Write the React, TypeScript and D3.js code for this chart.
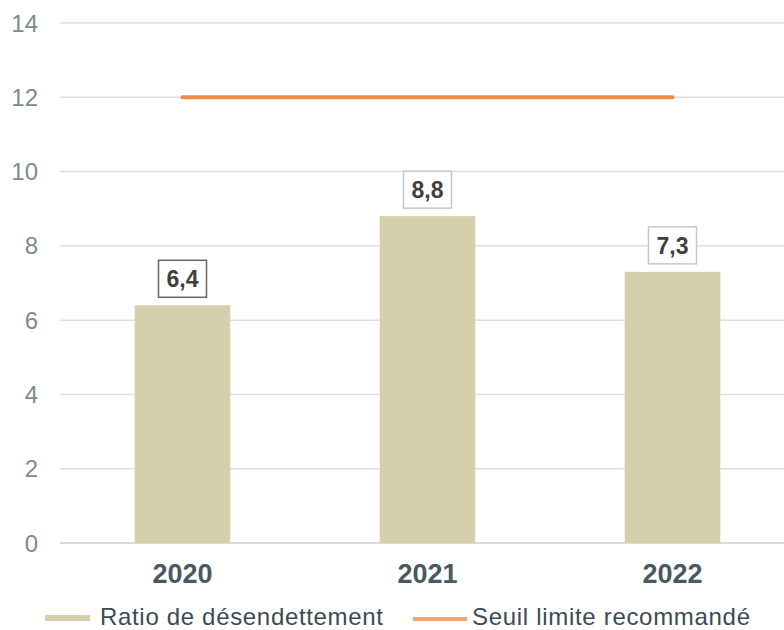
import React from "react";
import * as d3 from "d3";

const years = ["2020", "2021", "2022"];
const ratioValues = [6.4, 8.8, 7.3];
const thresholdValues = [12, 12, 12];
const yTicks = [0, 2, 4, 6, 8, 10, 12, 14];
const valueLabels = ["6,4", "8,8", "7,3"];
const legendLabels = ["Ratio de désendettement", "Seuil limite recommandé"];

const W = 784;
const H = 630;
const FONT = "'Liberation Sans', Arial, sans-serif";

export default function App() {
  const x = d3.scaleBand<string>().domain(years).range([60, 795]).paddingInner(0.61).paddingOuter(0.305);
  const y = d3.scaleLinear().domain([0, 14]).range([543, 23]);
  const cx = (d: string) => (x(d) ?? 0) + x.bandwidth() / 2;

  const line = d3
    .line<number>()
    .x((_, i) => cx(years[i]))
    .y((v) => y(v));

  return (
    <div style={{ position: "fixed", left: 0, top: 0 }}>
      <svg width={W} height={H} style={{ display: "block", background: "#fff" }}>
        {/* horizontal grid and y tick labels */}
        {yTicks.map((t) => (
          <g key={t}>
            <line x1={60} x2={W} y1={y(t)} y2={y(t)} stroke={t === 0 ? "#cfcfcf" : "#dedede"} strokeWidth={1.5} />
            <text
              x={38}
              y={y(t)}
              dy="0.36em"
              textAnchor="end"
              fontFamily={FONT}
              fontSize={24}
              fill="#7b8b95"
            >
              {t}
            </text>
          </g>
        ))}

        {/* bars */}
        {years.map((yr, i) => (
          <rect
            key={yr}
            x={x(yr)}
            y={y(ratioValues[i])}
            width={x.bandwidth()}
            height={y(0) - y(ratioValues[i])}
            fill="#d5cfac"
          />
        ))}

        {/* threshold line */}
        <path d={line(thresholdValues) ?? ""} fill="none" stroke="#ef8a4c" strokeWidth={4} strokeLinecap="round" />

        {/* value labels */}
        {years.map((yr, i) => {
          const top = y(ratioValues[i]);
          const bw = 48;
          const bh = 37;
          return (
            <g key={yr}>
              <rect
                x={cx(yr) - bw / 2}
                y={top - 8 - bh}
                width={bw}
                height={bh}
                fill="#fff"
                stroke={i === 0 ? "#666" : "#c8c8c8"}
                strokeWidth={1.5}
              />
              <text
                x={cx(yr)}
                y={top - 8 - bh / 2}
                dy="0.36em"
                textAnchor="middle"
                fontFamily={FONT}
                fontWeight="bold"
                fontSize={23}
                fill="#3f3f3f"
              >
                {valueLabels[i]}
              </text>
            </g>
          );
        })}

        {/* x axis labels */}
        {years.map((yr) => (
          <text
            key={yr}
            x={cx(yr)}
            y={583}
            textAnchor="middle"
            fontFamily={FONT}
            fontWeight="bold"
            fontSize={27}
            fill="#4a5862"
          >
            {yr}
          </text>
        ))}

        {/* legend */}
        <line x1={45} x2={90} y1={618} y2={618} stroke="#d5cfac" strokeWidth={6} />
        <text x={100} y={625} fontFamily={FONT} fontSize={24} fill="#3c4a55" textLength={283} lengthAdjust="spacing">
          {legendLabels[0]}
        </text>
        <line x1={413} x2={467} y1={619} y2={619} stroke="#f3a46f" strokeWidth={4} />
        <text x={472} y={625} fontFamily={FONT} fontSize={24} fill="#3c4a55" textLength={278} lengthAdjust="spacing">
          {legendLabels[1]}
        </text>
      </svg>
    </div>
  );
}
